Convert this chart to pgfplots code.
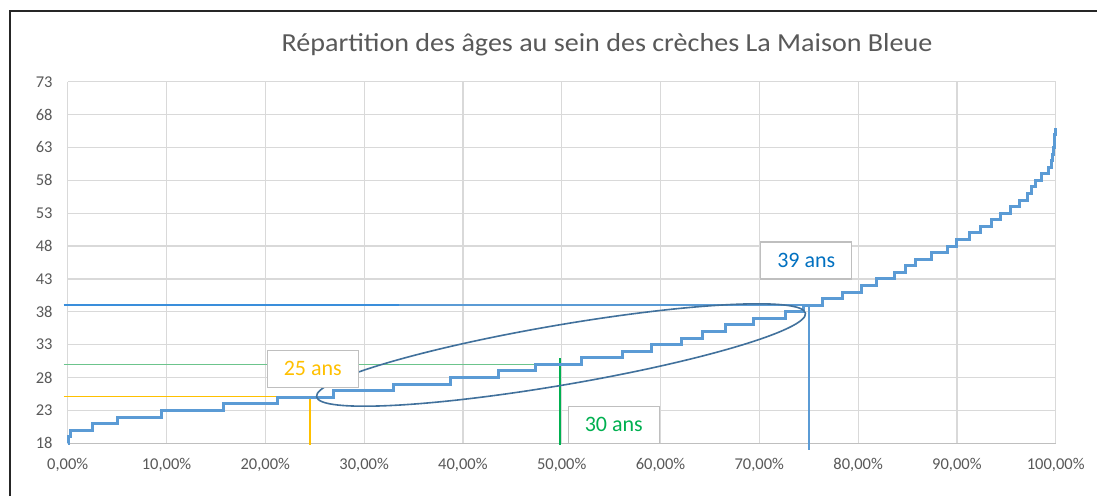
\documentclass[border=0pt]{standalone}
\usepackage{pgfplots}
\pgfplotsset{compat=1.18}
\usepackage{fontspec}
\setmainfont{Carlito}
\newfontfamily\titlefont[FakeStretch=1.08]{Carlito}
\usetikzlibrary{shapes.geometric}
\definecolor{curve}{HTML}{5B9BD5}
\definecolor{gridc}{HTML}{D9D9D9}
\definecolor{axc}{HTML}{BFBFBF}
\definecolor{txt}{HTML}{595959}
\definecolor{ell}{HTML}{41719C}
\definecolor{ylw}{HTML}{FFC000}
\definecolor{grn}{HTML}{00B050}
\definecolor{grnl}{HTML}{6CC48C}
\definecolor{blu}{HTML}{0070C0}
\definecolor{blul}{HTML}{3A8EDB}
\definecolor{bluv}{HTML}{5B9BD5}
\definecolor{framec}{HTML}{262626}
\begin{document}
\begin{tikzpicture}
\path[use as bounding box] (0,0) rectangle (1097pt,496pt);
\fill[white] (0,0) rectangle (1097pt,496pt);
\draw[draw=framec, line width=2.5pt] (10pt,0pt) -- (10pt,485pt) -- (1097pt,485pt);
\node[text=txt, font=\titlefont\fontsize{26}{26}\selectfont, inner sep=0pt, anchor=base] at (607pt,444.3pt) {Répartition des âges au sein des crèches La Maison Bleue};
\begin{axis}[
  at={(67.7pt,52.7pt)}, anchor=south west,
  scale only axis, width=988pt, height=361.6pt,
  xmin=0, xmax=100, ymin=18, ymax=73,
  xtick={0,10,...,100}, ytick={18,23,...,73},
  xticklabels={{0,00\%},{10,00\%},{20,00\%},{30,00\%},{40,00\%},{50,00\%},{60,00\%},{70,00\%},{80,00\%},{90,00\%},{100,00\%}},
  grid=major, grid style={draw=gridc, line width=1.2pt},
  axis line style={draw=none},
  major tick length=0pt, tick style={draw=none},
  tick label style={font=\fontsize{16.5}{16.5}\selectfont, text=txt},
  /pgf/number format/assume math mode=true,
  yticklabel style={inner sep=0pt, anchor=east, xshift=-15pt},
  xticklabel style={inner sep=0pt, anchor=north, yshift=-15pt},
  clip=false,
]
\draw[draw=axc, line width=1.2pt] (axis cs:0,18) -- (axis cs:100,18);
% reference lines
\addplot[draw=ylw, line width=1.7pt] coordinates {(-0.4,25.1) (24.5,25.1)};
\addplot[draw=ylw, line width=2pt] coordinates {(24.5,25.1) (24.5,17.7)};
\addplot[draw=grnl, line width=1.8pt] coordinates {(-0.4,30.0) (49.8,30.0)};
\addplot[draw=grn, line width=2pt] coordinates {(49.8,30.9) (49.8,17.8)};
\addplot[draw=blul, line width=1.6pt] coordinates {(-0.4,39.0) (33.5,39.0)};
\addplot[draw=curve, line width=2pt] coordinates {(33.5,39.0) (75.05,39.0)};
\addplot[draw=bluv, line width=1.8pt] coordinates {(75.05,39.0) (75.05,17.0)};
% age distribution curve
\addplot[const plot, draw=curve, line width=3pt] coordinates {
(0,18) (0.1,19) (0.25,20) (2.5,21) (5.0,22) (9.5,23) (15.75,24) (21.2,25)
(26.9,26) (33.0,27) (38.7,28) (43.6,29) (47.3,30) (52.0,31) (56.2,32)
(59.1,33) (62.1,34) (64.3,35) (66.6,36) (69.4,37) (72.7,38) (74.5,39)
(76.4,40) (78.4,41) (80.3,42) (81.9,43) (83.7,44) (84.8,45) (85.8,46)
(87.4,47) (89.0,48) (90.0,49) (91.3,50) (92.4,51) (93.5,52) (94.4,53)
(95.4,54) (96.3,55) (97.1,56) (97.5,57) (98.0,58) (98.6,59) (99.3,60)
(99.6,61) (99.7,62) (99.8,63) (99.85,64) (99.9,65) (100,66) (100,66)};
% annotations
\node[draw=ell, line width=1.6pt, ellipse, minimum width=496pt, minimum height=60pt, inner sep=0pt, rotate=9.7] at (axis cs:49.93,31.43) {};
\node[draw=axc, line width=1.2pt, fill=white, minimum width=91pt, minimum height=37pt, inner sep=0pt, text=ylw, font=\fontsize{22}{22}\selectfont] at (axis cs:24.81,29.35) {25 ans};
\node[draw=axc, line width=1.2pt, fill=white, minimum width=91pt, minimum height=37pt, inner sep=0pt, text=grn, font=\fontsize{22}{22}\selectfont] at (axis cs:55.27,20.83) {30 ans};
\node[draw=axc, line width=1.2pt, fill=white, minimum width=91pt, minimum height=37pt, inner sep=0pt, text=blu, font=\fontsize{22}{22}\selectfont] at (axis cs:74.75,45.80) {39 ans};
\end{axis}
\end{tikzpicture}
\end{document}
